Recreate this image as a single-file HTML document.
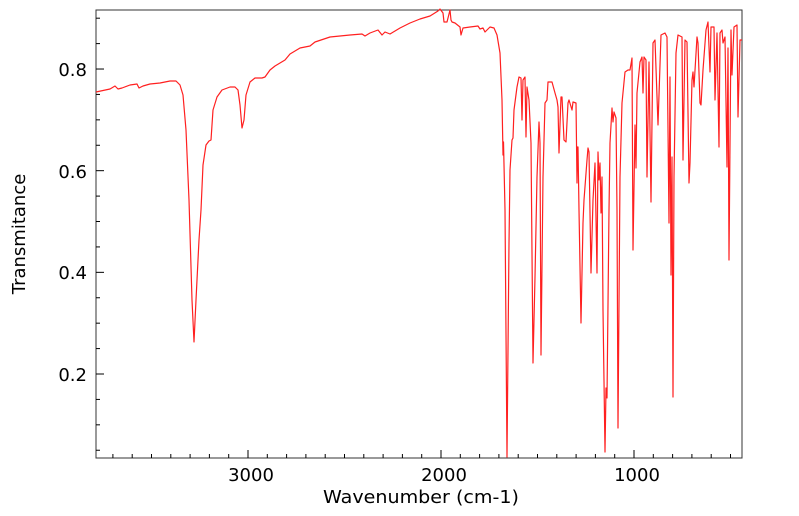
<!DOCTYPE html>
<html><head><meta charset="utf-8"><style>
html,body{margin:0;padding:0;background:#fff;}
svg{display:block;font-family:"DejaVu Sans","Liberation Sans",sans-serif;}
</style></head><body>
<svg id="s" width="799" height="516" viewBox="0 0 799 516" xmlns="http://www.w3.org/2000/svg">
<rect x="96" y="10" width="646" height="448" fill="none" stroke="#333" stroke-width="1"/>
<g id="ticks" stroke="#000" stroke-width="1"></g>
<polyline fill="none" stroke="#ff2020" stroke-width="1.2" stroke-linejoin="round" points="
96,92 110,89 115,86 118,89 122,88 130,85 137,84 139,88 143,86 150,84 160,83 170,81 176,81 180,85 183,95 186,130 189,200 192,300 194,342 196,300 199,240 201,210 203,165 206,145 209,141 211,140 213,110 217,97 222,90 230,87 235,87 238,90 240,105 242,128 244,120 246,95 250,82 255,78 262,78 265,77 270,70 275,66 285,60 290,54 300,48 310,46 315,42 330,37 340,36 350,35 362,34 365,36 370,33 378,30 382,35 385,32 390,34 400,28 410,23 420,19 430,16 438,11 440,9 443,13 444,22 447,22 450,10 451,20 452,22 455,23 460,27 461,35 463,28 470,27 478,26 480,29 483,28 485,32 490,27 494,28 497,35 500,53 502,100 503,155 503.5,142 505,210 507,457 509,243 510,170 512,140 513,138 514,110 517,87 519,77 521,78 522,120 523,80 525,77 526,137 527,87 529,100 531,143 533,363 535,277 537,177 539,122 540,143 541,355 543,177 545,103 547,100 548,82 552,82 555,93 557,100 558,107 559,153 561,97 562,97 564,140 566,142 568,103 569,100 572,110 573,102 576,103 577,183 577.5,147 578,147 579,210 581,323 583,223 584,200 587,160 588,148 589,152 591,273 593,200 595,163 597,273 598,152 599,180 600,163 601,213 602,177 603,310 605,452 606,388 607,398 609,210 610,143 612,108 613,122 614,112 616,118 617,210 618,428 620,177 622,103 625,72 628,70 630,70 632,58 633,250 635,125 636,168 637,93 640,62 642,57 643,93 644,57 646,60 647,177 649,62 651,202 653,43 655,40 658,125 661,35 665,33 667,37 669,223 670,77 671,275 672,157 673,397 674,177 676,53 678,35 682,37 683,160 685,40 687,42 689,183 690,163 692,80 693,72 694,87 697,37 698,43 700,103 701,105 703,70 706,30 708,22 710,72 711,27 714,27 715,100 717,33 719,147 720,33 722,30 723,43 725,37 727,167 728,48 729,260 731,30 732,75 734,27 737,25 738,117 740,40 742,40"/>
<g font-size="18" fill="#000">
<text x="87" y="76" text-anchor="end">0.8</text>
<text x="87" y="178" text-anchor="end">0.6</text>
<text x="87" y="279" text-anchor="end">0.4</text>
<text x="87" y="381" text-anchor="end">0.2</text>
<text x="251" y="481" text-anchor="middle">3000</text>
<text x="444" y="481" text-anchor="middle">2000</text>
<text x="637" y="481" text-anchor="middle">1000</text>
<text x="323" y="503" textLength="196" lengthAdjust="spacingAndGlyphs">Wavenumber (cm-1)</text>
<text transform="translate(25,234) rotate(-90)" text-anchor="middle">Transmitance</text>
</g>
</svg>
<script>
var g=document.getElementById('ticks'),h='';
for(var w=3700;w>=500;w-=100){var x=248+(3000-w)*0.193;var L=(w%1000==0)?8:4;h+='<line x1="'+x+'" y1="458" x2="'+x+'" y2="'+(458-L)+'"/>';}
for(var k=1;k<=18;k++){var v=k*0.05;var y=374-(v-0.2)*508.3;if(y<10||y>458)continue;var L=(Math.round(v*100)%20==0)?8:4;h+='<line x1="96" y1="'+y+'" x2="'+(96+L)+'" y2="'+y+'"/>';}
g.innerHTML=h;
</script>
</body></html>
